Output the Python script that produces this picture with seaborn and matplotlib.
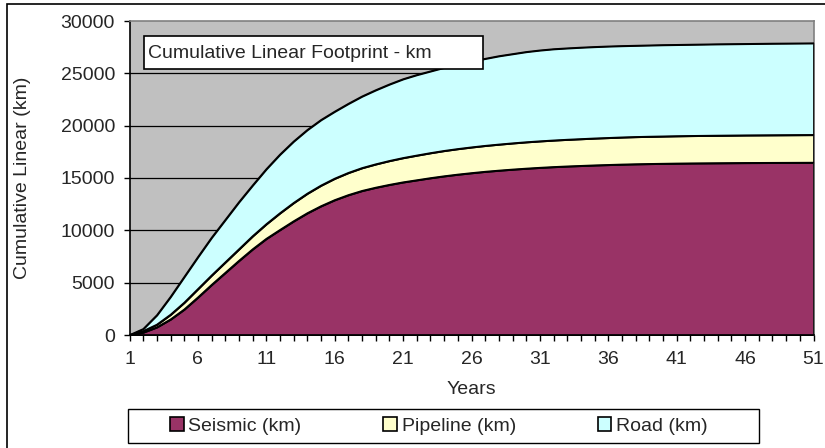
import matplotlib
matplotlib.use("Agg")
import matplotlib.pyplot as plt
from matplotlib.patches import Rectangle, Patch
import seaborn as sns
import pandas as pd

years = list(range(1, 52))
seismic = [0, 250, 750, 1500, 2450, 3600, 4800, 5950, 7100, 8200,
           9200, 10050, 10880, 11650, 12320, 12900, 13380, 13780, 14090, 14360,
           14600, 14800, 15000, 15180, 15340, 15480, 15610, 15720, 15820, 15910,
           15990, 16060, 16120, 16170, 16220, 16260, 16300, 16330, 16355, 16375,
           16395, 16410, 16420, 16430, 16440, 16450, 16455, 16460, 16465, 16470, 16475]
pipeline = [0, 130, 250, 450, 650, 800, 900, 1000, 1100, 1250,
            1400, 1600, 1750, 1870, 1970, 2050, 2120, 2180, 2230, 2280,
            2320, 2360, 2390, 2420, 2440, 2460, 2475, 2490, 2505, 2520,
            2530, 2540, 2550, 2560, 2570, 2580, 2590, 2600, 2605, 2610,
            2615, 2620, 2625, 2630, 2633, 2636, 2639, 2642, 2645, 2648, 2650]
road = [0, 200, 900, 1700, 2450, 3050, 3600, 4050, 4500, 4850,
        5250, 5600, 5870, 6080, 6260, 6400, 6600, 6840, 7080, 7310,
        7530, 7690, 7810, 7950, 8070, 8210, 8315, 8440, 8525, 8620,
        8680, 8720, 8730, 8740, 8740, 8740, 8730, 8720, 8720, 8725,
        8720, 8720, 8725, 8730, 8732, 8734, 8741, 8748, 8750, 8752, 8755]
series_names = ["Seismic (km)", "Pipeline (km)", "Road (km)"]
series_colors = ["#993366", "#FFFFCC", "#CCFFFF"]
title_text = "Cumulative Linear Footprint - km"
x_label = "Years"
y_label = "Cumulative Linear (km)"
y_ticks = [0, 5000, 10000, 15000, 20000, 25000, 30000]
x_tick_labels = [1, 6, 11, 16, 21, 26, 31, 36, 41, 46, 51]

sns.set_style("white")
plt.rcParams["font.family"] = ["Liberation Sans", "DejaVu Sans"]
FS = 14

W, H = 825, 448
fig = plt.figure(figsize=(W / 100, H / 100), dpi=100)
fig.patch.set_facecolor("white")
L, R, T, B = 129.5, 813.5, 21, 335
ax = fig.add_axes([L / W, 1 - B / H, (R - L) / W, (B - T) / H])
ax.set_facecolor("#C0C0C0")

df = pd.DataFrame({"Year": years, "Seismic": seismic, "Pipeline": pipeline, "Road": road})
df["c1"] = df["Seismic"]
df["c2"] = df["c1"] + df["Pipeline"]
df["c3"] = df["c2"] + df["Road"]

# gridlines
for yv in y_ticks[1:-1]:
    ax.axhline(yv, color="black", lw=0.9, zorder=1)

ax.stackplot(df["Year"], df["Seismic"], df["Pipeline"], df["Road"],
             colors=series_colors, edgecolor="black", linewidth=1.1, zorder=2)
long = df.melt(id_vars="Year", value_vars=["c1", "c2", "c3"], var_name="edge", value_name="v")
sns.lineplot(data=long, x="Year", y="v", units="edge", estimator=None,
             color="black", lw=1.1, ax=ax, zorder=3, legend=False)
ax.plot([years[-1], years[-1]], [0, df["c3"].iloc[-1]], color="black", lw=1.8, zorder=3)

ax.set_xlim(1, 51)
ax.set_ylim(0, 30000)
ax.set_yticks(y_ticks)
ax.set_yticklabels([str(v) for v in y_ticks], fontsize=FS)
ax.set_xticks(x_tick_labels)
ax.set_xticklabels([str(v) for v in x_tick_labels], fontsize=FS)
ax.set_xticks(years, minor=True)
ax.tick_params(axis="both", which="both", direction="out", length=4.5, width=1, color="black")
ax.tick_params(axis="y", pad=6)
ax.tick_params(axis="x", which="both", pad=7)
ax.tick_params(left=True, bottom=True)
ax.tick_params(axis="x", which="minor", bottom=True)

ax.set_xlabel(x_label, fontsize=FS)
ax.set_ylabel(y_label, fontsize=FS)
ax.xaxis.set_label_coords(0.5, -(389 - B) / (B - T))
ax.xaxis.label.set_va("center")
ax.yaxis.set_label_coords((23 - L) / (R - L), 0.5)
ax.yaxis.label.set_va("center")

for s in ["left", "bottom"]:
    ax.spines[s].set_color("black")
    ax.spines[s].set_linewidth(1.2)
for s in ["top", "right"]:
    ax.spines[s].set_color("#808080")
    ax.spines[s].set_linewidth(1.2)
ax.grid(False)

# title box
fig.patches.append(Rectangle((144 / W, 1 - 69 / H), (483 - 144) / W, (69 - 36) / H,
                             transform=fig.transFigure, facecolor="white",
                             edgecolor="black", lw=1.2, zorder=5))
fig.text(148 / W, 1 - 53 / H, title_text, fontsize=FS, va="center", ha="left", zorder=6)

# legend frame
fig.patches.append(Rectangle((128 / W, 1 - 443 / H), (759 - 128) / W, (443 - 409) / H,
                             transform=fig.transFigure, facecolor="white",
                             edgecolor="black", lw=1.0, zorder=1))
handles = [Patch(facecolor=c, edgecolor="black", lw=1.2) for c in series_colors]
leg = fig.legend(handles, series_names, loc="center left", ncol=3,
                 bbox_to_anchor=(170 / W, 1 - 426 / H), frameon=False, fontsize=FS,
                 handlelength=0.7, handleheight=0.7, handletextpad=0.25,
                 columnspacing=4.2, borderpad=0, borderaxespad=0)
leg.set_zorder(7)

# outer figure border (top and left visible)
fig.patches.append(Rectangle((7 / W, -0.1), 1.2, 1.1 - 4.5 / H,
                             transform=fig.transFigure, fill=False,
                             edgecolor="black", lw=1.2, zorder=8))

fig.savefig("out.png", dpi=100)
